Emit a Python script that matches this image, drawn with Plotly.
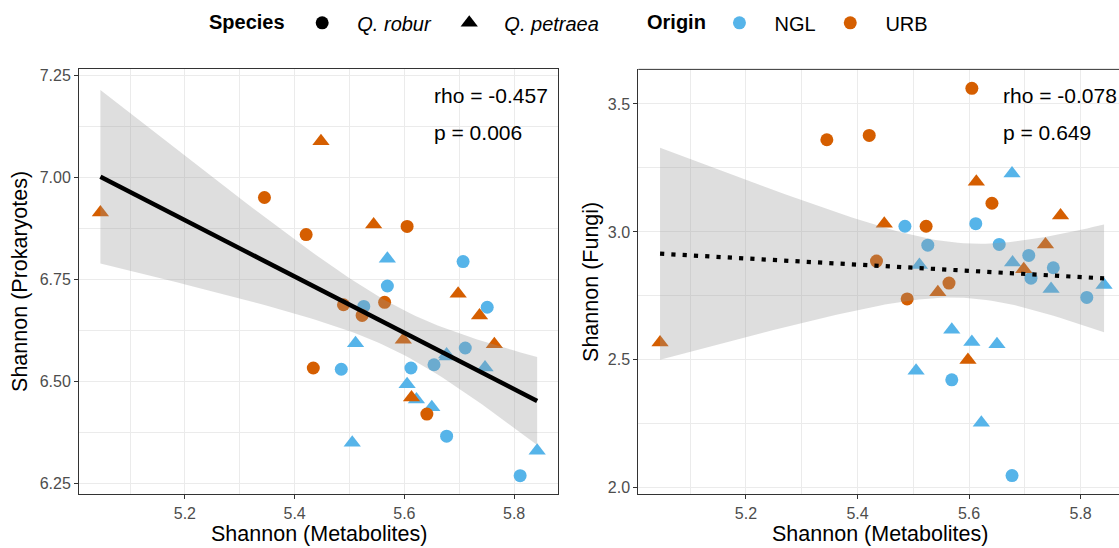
import numpy as np
import plotly.graph_objects as go

# ---------------- data ----------------
metab = [5.046, 5.448, 5.544, 5.698, 5.737, 5.598, 5.764, 5.613,
         5.345, 5.421, 5.605, 5.489, 5.564, 5.523, 5.434, 5.641,
         5.569, 5.511, 5.677, 5.678, 5.747, 5.605, 5.622, 5.650, 5.505, 5.842,
         5.485, 5.612, 5.526, 5.654, 5.707, 5.751, 5.711, 5.811, 5.569, 5.677]
prok = [6.913, 7.088, 6.884, 6.714, 6.661, 6.601, 6.590, 6.460,
        6.950, 6.859, 6.879, 6.687, 6.693, 6.661, 6.532, 6.419,
        6.800, 6.593, 6.565, 6.560, 6.533, 6.492, 6.455, 6.436, 6.349, 6.329,
        6.529, 6.532, 6.683, 6.540, 6.793, 6.681, 6.581, 6.268, 6.733, 6.365]
fungi = [2.568, 3.032, 2.764, 2.854, 2.951, 2.499, 3.064, 3.196,
         3.360, 3.377, 3.561, 2.738, 2.800, 3.022, 2.886, 3.112,
         2.618, 2.871, 3.228, 2.880, 2.777, 2.570, 2.254, 2.561, 2.457, 2.793,
         3.022, 3.032, 2.948, 2.951, 2.908, 2.860, 2.819, 2.744, 2.422, 2.048]
species = ["Q. petraea"] * 8 + ["Q. robur"] * 8 + ["Q. petraea"] * 10 + ["Q. robur"] * 10
origin = ["URB"] * 16 + ["NGL"] * 20

species_levels = ["Q. robur", "Q. petraea"]
origin_levels = ["NGL", "URB"]
stats_left = ["rho = -0.457", "p = 0.006"]
stats_right = ["rho = -0.078", "p = 0.649"]

# ---------------- styling ----------------
W, H = 1119, 548
FONT = "Liberation Sans, Arial, Helvetica, sans-serif"
COL = {"NGL": "#56B4E9", "URB": "#D55E00"}
SYM = {"Q. robur": "circle", "Q. petraea": "triangle-up"}
SIZE = {"Q. robur": 13, "Q. petraea": 15}
NB, TH = "\u00a0", "\u2009"
LEAD = {"Q. robur": NB * 2 + TH, "Q. petraea": NB * 2 + TH, "NGL": NB * 2 + TH, "URB": NB * 2 + TH}
TRAIL = {"Q. robur": NB + TH + TH, "Q. petraea": "", "NGL": NB + TH, "URB": ""}


def px(x):
    return x / W


def py(y):
    return (H - y) / H


def lm_band(x, y, n=80, t=2.032):
    x = np.asarray(x, float)
    y = np.asarray(y, float)
    b1, b0 = np.polyfit(x, y, 1)
    xs = np.linspace(x.min(), x.max(), n)
    resid = y - (b0 + b1 * x)
    s = np.sqrt((resid ** 2).sum() / (len(x) - 2))
    se = s * np.sqrt(1 / len(x) + (xs - x.mean()) ** 2 / ((x - x.mean()) ** 2).sum())
    yh = b0 + b1 * xs
    return xs, yh, yh - t * se, yh + t * se


fig = go.Figure()

panels = [("x", "y", prok, dict(width=4.5, dash="solid")),
          ("x2", "y2", fungi, dict(width=4.2, dash="4.2px,7.1px"))]

for xa, ya, yv, lstyle in panels:
    for o in origin_levels:
        for sp in species_levels:
            idx = [i for i in range(len(metab)) if origin[i] == o and species[i] == sp]
            fig.add_trace(go.Scatter(
                x=[metab[i] for i in idx], y=[yv[i] for i in idx],
                mode="markers", xaxis=xa, yaxis=ya, showlegend=False,
                marker=dict(symbol=SYM[sp], size=SIZE[sp], color=COL[o],
                            line=dict(width=0)),
                hoverinfo="x+y"))
    xs, yh, lo, hi = lm_band(metab, yv)
    fig.add_trace(go.Scatter(
        x=list(xs) + list(xs[::-1]), y=list(hi) + list(lo[::-1]),
        mode="lines", fill="toself", fillcolor="rgba(153,153,153,0.32)",
        line=dict(width=0), xaxis=xa, yaxis=ya, showlegend=False, hoverinfo="skip"))
    fig.add_trace(go.Scatter(
        x=xs, y=yh, mode="lines", xaxis=xa, yaxis=ya, showlegend=False,
        line=dict(color="black", **lstyle), hoverinfo="skip"))

# legend entries
for sp in species_levels:
    fig.add_trace(go.Scatter(x=[None], y=[None], mode="markers", legend="legend",
                             name=LEAD[sp] + "<i>" + sp + "</i>" + TRAIL[sp],
                             marker=dict(symbol=SYM[sp], size=SIZE[sp], color="black")))
for o in origin_levels:
    fig.add_trace(go.Scatter(x=[None], y=[None], mode="markers", legend="legend2",
                             name=LEAD[o] + o + TRAIL[o],
                             marker=dict(symbol="circle", size=13, color=COL[o])))

ydom = [py(496), py(67)]
axis_common = dict(showline=True, linecolor="#333333", linewidth=1,
                   ticks="outside", ticklen=4, tickwidth=1, tickcolor="#333333",
                   tickfont=dict(family=FONT, size=16, color="#4D4D4D"),
                   showgrid=True, gridcolor="#EBEBEB", gridwidth=1, zeroline=False)

fig.update_layout(
    width=W, height=H, margin=dict(l=0, r=0, t=0, b=0),
    paper_bgcolor="white", plot_bgcolor="white",
    font=dict(family=FONT, color="black"),
    xaxis=dict(domain=[px(79), px(558)], range=[5.007, 5.880], tickvals=[5.2, 5.4, 5.6, 5.8],
               tickformat=".1f", mirror=True, anchor="y",
               minor=dict(tickvals=[5.1, 5.3, 5.5, 5.7], showgrid=True, gridcolor="#EBEBEB",
                          gridwidth=0.6, ticks=""), **axis_common),
    yaxis=dict(domain=ydom, range=[6.222, 7.264], tickvals=[6.25, 6.5, 6.75, 7.0, 7.25],
               tickformat=".2f", mirror=True, anchor="x",
               minor=dict(tickvals=[6.375, 6.625, 6.875, 7.125], showgrid=True,
                          gridcolor="#EBEBEB", gridwidth=0.6, ticks=""), **axis_common),
    xaxis2=dict(domain=[px(638.3), 1.0], range=[5.007, 5.007 + (W - 638.3) / 557.8],
                tickvals=[5.2, 5.4, 5.6, 5.8], tickformat=".1f", anchor="y2",
                minor=dict(tickvals=[5.1, 5.3, 5.5, 5.7], showgrid=True, gridcolor="#EBEBEB",
                           gridwidth=0.6, ticks=""), **axis_common),
    yaxis2=dict(domain=ydom, range=[1.974, 3.635], tickvals=[2.0, 2.5, 3.0, 3.5],
                tickformat=".1f", anchor="x2",
                minor=dict(tickvals=[2.25, 2.75, 3.25], showgrid=True, gridcolor="#EBEBEB",
                           gridwidth=0.6, ticks=""), **axis_common),
    legend=dict(orientation="h", x=px(207), y=py(20), xanchor="left", yanchor="middle",
                title=dict(text="<b>Species</b>" + NB + TH, side="left",
                           font=dict(family=FONT, size=20, color="black")),
                font=dict(family=FONT, size=20, color="black"),
                bgcolor="rgba(0,0,0,0)", borderwidth=0, itemsizing="trace"),
    legend2=dict(orientation="h", x=px(645), y=py(20), xanchor="left", yanchor="middle",
                 title=dict(text="<b>Origin</b>" + NB, side="left",
                            font=dict(family=FONT, size=20, color="black")),
                 font=dict(family=FONT, size=20, color="black"),
                 bgcolor="rgba(0,0,0,0)", borderwidth=0, itemsizing="trace"),
    shapes=[dict(type="line", xref="x2 domain", yref="y2 domain", x0=0, x1=1, y0=1, y1=1,
                 line=dict(color="#333333", width=1))],
)

ann = []
# axis titles
ann.append(dict(text="Shannon (Metabolites)", x=px(318.5), y=py(536), xref="paper", yref="paper",
                showarrow=False, xanchor="center", yanchor="middle",
                font=dict(family=FONT, size=21.5, color="black")))
ann.append(dict(text="Shannon (Metabolites)", x=px(880), y=py(536), xref="paper", yref="paper",
                showarrow=False, xanchor="center", yanchor="middle",
                font=dict(family=FONT, size=21.5, color="black")))
ann.append(dict(text="Shannon (Prokaryotes)", x=px(20), y=py(281.5), xref="paper", yref="paper",
                showarrow=False, textangle=-90, xanchor="center", yanchor="middle",
                font=dict(family=FONT, size=21.5, color="black")))
ann.append(dict(text="Shannon (Fungi)", x=px(591), y=py(281.5), xref="paper", yref="paper",
                showarrow=False, textangle=-90, xanchor="center", yanchor="middle",
                font=dict(family=FONT, size=21.5, color="black")))
# stats
for txt, yy in zip(stats_left, [93, 131]):
    ann.append(dict(text=txt, x=px(431.7), y=py(yy), xref="paper", yref="paper",
                    showarrow=False, xanchor="left", yanchor="middle",
                    font=dict(family=FONT, size=21, color="black")))
for txt, yy in zip(stats_right, [93, 131]):
    ann.append(dict(text=txt, x=px(1001), y=py(yy), xref="paper", yref="paper",
                    showarrow=False, xanchor="left", yanchor="middle",
                    font=dict(family=FONT, size=21, color="black")))
fig.update_layout(annotations=ann)

fig.write_html("out.html")
